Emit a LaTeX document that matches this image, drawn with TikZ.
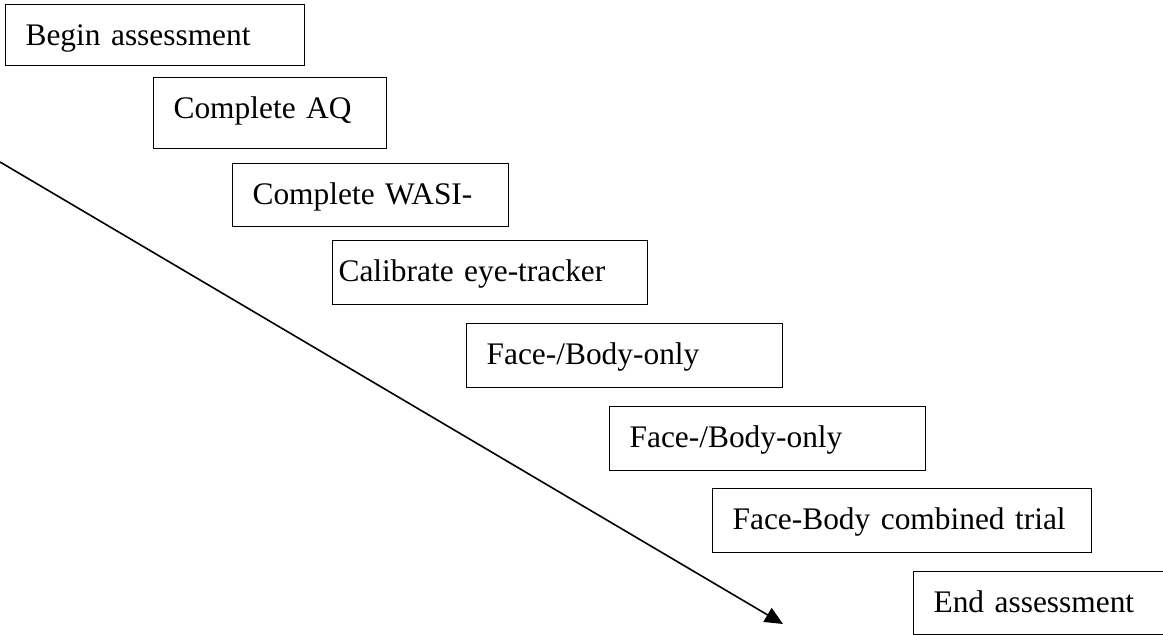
\documentclass[tikz,border=0pt]{standalone}
\usepackage{fontspec}
\setmainfont{Liberation Serif}
\usetikzlibrary{arrows.meta}

\begin{document}
\begin{tikzpicture}[
   x=0.5pt, y=-0.5pt,
   stepbox/.style = {draw, line width=0.6pt, anchor=north west,
      inner xsep=10pt, inner ysep=0pt, align=left,
      font=\fontsize{15.7}{18}\selectfont, text height=20.5pt, text depth=11.5pt},
   flow/.style = {line width=0.8pt, -{Triangle[length=9pt, width=8pt]}}]
   \useasboundingbox (0,0) rectangle (1163,635);
   \node[stepbox, text width=129.5pt, text depth=10pt] (begin) at (5,4) {Begin assessment};
   \node[stepbox, text width=96.5pt, text depth=15pt] (aq) at (153,77) {Complete AQ};
   \node[stepbox, text width=118pt, text depth=11pt] (wasi) at (232,163) {Complete WASI-};
   \node[stepbox, text width=151.5pt, inner xsep=3pt] (calib) at (332,240) {Calibrate eye-tracker};
   \node[stepbox, text width=138pt] (single1) at (466,323) {Face-/Body-only};
   \node[stepbox, text width=138pt] (single2) at (609,406) {Face-/Body-only};
   \node[stepbox, text width=169.5pt] (combined) at (712,488) {Face-Body combined trial};
   \node[stepbox, text width=150pt, text depth=11pt] (end) at (913,571) {End assessment};

   \coordinate (start) at (0,162);
   \coordinate (tip) at (783,624);
   \draw[flow] (start) -- (tip);
\end{tikzpicture}
\end{document}
